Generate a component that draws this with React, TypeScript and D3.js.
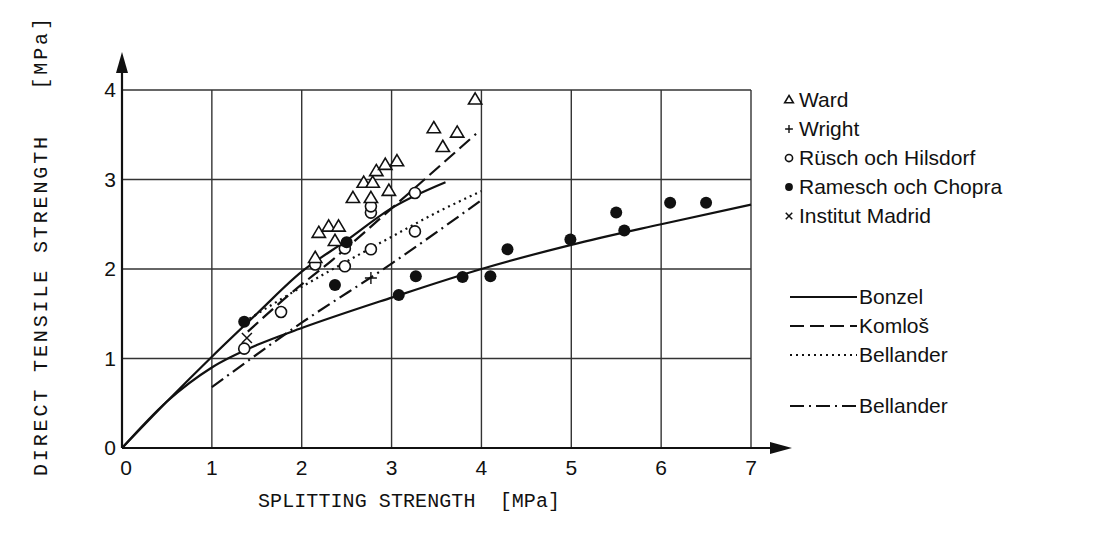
import React from 'react';
import * as d3 from 'd3';

type Pt = [number, number];

// measured points (splitting strength, direct tensile strength) in MPa
const ward: Pt[] = [
  [2.15, 2.12], [2.19, 2.4], [2.3, 2.47], [2.41, 2.47], [2.37, 2.31],
  [2.57, 2.79], [2.77, 2.79], [2.69, 2.96], [2.79, 2.96], [2.83, 3.09],
  [2.93, 3.16], [3.06, 3.2], [2.97, 2.87], [3.47, 3.57], [3.73, 3.52],
  [3.57, 3.36], [3.93, 3.89],
];
const wright: Pt[] = [[2.77, 1.9]];
const rusch: Pt[] = [
  [1.36, 1.11], [1.77, 1.52], [2.15, 2.05], [2.48, 2.03], [2.48, 2.23],
  [2.77, 2.22], [2.77, 2.63], [2.77, 2.7], [3.26, 2.85], [3.26, 2.42],
];
const ramesch: Pt[] = [
  [1.36, 1.41], [2.37, 1.82], [2.5, 2.3], [3.08, 1.71], [3.27, 1.92],
  [3.79, 1.91], [4.1, 1.92], [4.29, 2.22], [4.99, 2.33], [5.5, 2.63],
  [5.59, 2.43], [6.1, 2.74], [6.5, 2.74],
];
const madrid: Pt[] = [[1.39, 1.23]];

// relation curves
const bonzelUpper: Pt[] = [
  [0, 0], [0.5, 0.52], [1, 1.02], [1.5, 1.5], [2, 1.97], [2.5, 2.32], [3, 2.68], [3.6, 2.97],
];
const bonzelLower: Pt[] = [
  [0, 0], [0.5, 0.52], [1, 0.9], [1.5, 1.15], [2, 1.34], [3, 1.68], [4, 2.0],
  [5, 2.27], [6, 2.5], [7, 2.72],
];
const komlos: Pt[] = [[1.4, 1.3], [1.87, 1.72], [2.34, 2.1], [3.06, 2.73], [3.94, 3.51]];
const bellanderDot: Pt[] = [[1.36, 1.41], [2, 1.8], [2.6, 2.14], [3, 2.36], [3.5, 2.63], [4, 2.87]];
const bellanderDashDot: Pt[] = [[1.0, 0.68], [2, 1.4], [3, 2.06], [4, 2.77]];

const xTicks = [0, 1, 2, 3, 4, 5, 6, 7];
const yTicks = [0, 1, 2, 3, 4];

const markerLegend = ['Ward', 'Wright', 'Rüsch och Hilsdorf', 'Ramesch och Chopra', 'Institut Madrid'];
const lineLegend = ['Bonzel', 'Komloš', 'Bellander', 'Bellander'];

const INK = '#111';
const SANS = '"Liberation Sans", Arial, sans-serif';
const MONO = '"Liberation Mono", "Courier New", monospace';

const dashes = ['none', '14 6', '2 4', '14 5 2 5'];

function Marker({ kind, x, y, s = 1 }: { kind: string; x: number; y: number; s?: number }) {
  if (kind === 'tri') {
    const h = 7 * s;
    return <path d={`M${x},${y - h} L${x + h * 0.95},${y + h * 0.6} L${x - h * 0.95},${y + h * 0.6} Z`} fill="#fff" stroke={INK} strokeWidth={1.6} />;
  }
  if (kind === 'plus') {
    const h = 6 * s;
    return <path d={`M${x - h},${y} H${x + h} M${x},${y - h} V${y + h}`} stroke={INK} strokeWidth={1.4} />;
  }
  if (kind === 'cross') {
    const h = 5 * s;
    return <path d={`M${x - h},${y - h} L${x + h},${y + h} M${x + h},${y - h} L${x - h},${y + h}`} stroke={INK} strokeWidth={1.5} />;
  }
  if (kind === 'dot') return <circle cx={x} cy={y} r={6 * s} fill={INK} />;
  return <circle cx={x} cy={y} r={5.5 * s} fill="#fff" stroke={INK} strokeWidth={1.6} />;
}

export default function App() {
  const x = d3.scaleLinear().domain([0, 7]).range([122, 751]);
  const y = d3.scaleLinear().domain([0, 4]).range([448, 90]);

  const line = d3.line<Pt>().x(d => x(d[0])).y(d => y(d[1])).curve(d3.curveMonotoneX);

  const curves: { pts: Pt[]; dash: string }[] = [
    { pts: bonzelUpper, dash: dashes[0] },
    { pts: bonzelLower, dash: dashes[0] },
    { pts: komlos, dash: dashes[1] },
    { pts: bellanderDot, dash: dashes[2] },
    { pts: bellanderDashDot, dash: dashes[3] },
  ];

  const series: { pts: Pt[]; kind: string }[] = [
    { pts: rusch, kind: 'circle' },
    { pts: ward, kind: 'tri' },
    { pts: wright, kind: 'plus' },
    { pts: madrid, kind: 'cross' },
    { pts: ramesch, kind: 'dot' },
  ];
  const legendKinds = ['tri', 'plus', 'circle', 'dot', 'cross'];
  const legendY = [100, 129, 158, 187, 216];
  const lineLegendY = [297, 326, 355, 406];

  return (
    <svg width={1096} height={545} style={{ position: 'absolute', left: 0, top: 0, background: '#fff' }}>
      {/* grid */}
      {yTicks.slice(1).map(t => (
        <line key={'h' + t} x1={x(0)} x2={x(7)} y1={y(t)} y2={y(t)} stroke="#333" strokeWidth={1.4} />
      ))}
      {xTicks.slice(1).map(t => (
        <line key={'v' + t} x1={x(t)} x2={x(t)} y1={y(0)} y2={y(4)} stroke="#333" strokeWidth={1.4} />
      ))}

      {/* axes with arrows */}
      <line x1={x(0)} x2={770} y1={y(0)} y2={y(0)} stroke={INK} strokeWidth={2.2} />
      <path d={`M770,${y(0) - 6} L792,${y(0)} L770,${y(0) + 6} Z`} fill={INK} />
      <line x1={x(0)} x2={x(0)} y1={y(0)} y2={73} stroke={INK} strokeWidth={2.2} />
      <path d={`M${x(0) - 6},73 L${x(0)},52 L${x(0) + 6},73 Z`} fill={INK} />

      {/* tick labels */}
      {xTicks.map(t => (
        <text key={'xt' + t} x={x(t) + (t === 0 ? 4 : 0)} y={y(0) + 27} textAnchor="middle" fontFamily={SANS} fontSize={21} fill={INK}>{t}</text>
      ))}
      {yTicks.map(t => (
        <text key={'yt' + t} x={116} y={y(t) + 7} textAnchor="end" fontFamily={SANS} fontSize={21} fill={INK}>{t}</text>
      ))}

      {/* curves */}
      {curves.map((c, i) => (
        <path key={'c' + i} d={line(c.pts) || ''} fill="none" stroke={INK} strokeWidth={2.2} strokeDasharray={c.dash} />
      ))}

      {/* points */}
      {series.map(s => s.pts.map((p, i) => (
        <Marker key={s.kind + i} kind={s.kind} x={x(p[0])} y={y(p[1])} />
      )))}

      {/* marker legend */}
      {markerLegend.map((name, i) => (
        <g key={'ml' + i}>
          <Marker kind={legendKinds[i]} x={789} y={legendY[i]} s={0.65} />
          <text x={799} y={legendY[i] + 7} fontFamily={SANS} fontSize={21} fill={INK}>{name}</text>
        </g>
      ))}

      {/* line legend */}
      {lineLegend.map((name, i) => (
        <g key={'ll' + i}>
          <line x1={790} x2={857} y1={lineLegendY[i]} y2={lineLegendY[i]} stroke={INK} strokeWidth={2} strokeDasharray={dashes[i]} />
          <text x={859} y={lineLegendY[i] + 7} fontFamily={SANS} fontSize={21} fill={INK}>{name}</text>
        </g>
      ))}

      {/* axis titles */}
      <text x={258} y={507} fontFamily={MONO} fontSize={20} fill={INK} textLength={302} lengthAdjust="spacing" style={{ whiteSpace: 'pre' }}>
        SPLITTING STRENGTH  [MPa]
      </text>
      <text transform="translate(47,476) rotate(-90)" x={0} y={0} fontFamily={MONO} fontSize={20} fill={INK} textLength={458} lengthAdjust="spacing" style={{ whiteSpace: 'pre' }}>
        DIRECT TENSILE STRENGTH   [MPa]
      </text>
    </svg>
  );
}
